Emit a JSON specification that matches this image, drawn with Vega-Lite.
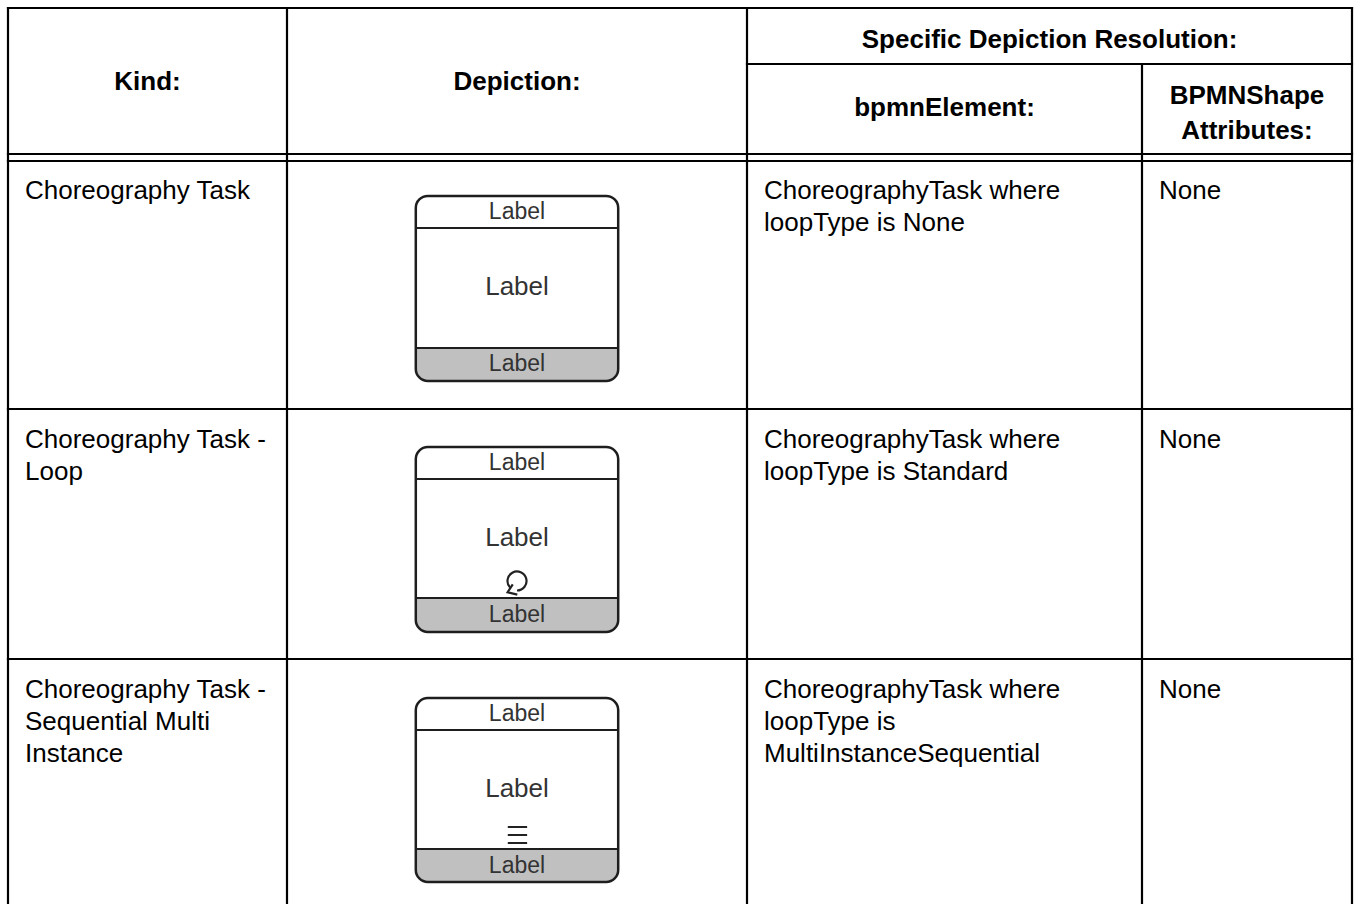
{
  "$schema": "https://vega.github.io/schema/vega-lite/v6.json",
  "width": 1357,
  "height": 904,
  "padding": 0,
  "autosize": {"type": "none"},
  "background": "white",
  "config": {"view": {"stroke": null}, "text": {"font": "Liberation Sans"}},
  "datasets": {
    "grid": [
      {"x": 0, "x2": 4, "y": 0, "y2": 0},
      {"x": 2, "x2": 4, "y": 1, "y2": 1},
      {"x": 0, "x2": 4, "y": 2, "y2": 2},
      {"x": 0, "x2": 4, "y": 3, "y2": 3},
      {"x": 0, "x2": 4, "y": 4, "y2": 4},
      {"x": 0, "x2": 4, "y": 5, "y2": 5},
      {"x": 0, "x2": 4, "y": 6, "y2": 6},
      {"x": 0, "x2": 0, "y": 0, "y2": 6},
      {"x": 1, "x2": 1, "y": 0, "y2": 6},
      {"x": 2, "x2": 2, "y": 0, "y2": 6},
      {"x": 3, "x2": 3, "y": 1, "y2": 6},
      {"x": 4, "x2": 4, "y": 0, "y2": 6}
    ],
    "headers": [
      {"x": 0.5, "y": 1.2, "text": "Kind:"},
      {"x": 1.5, "y": 1.2, "text": "Depiction:"},
      {"x": 2.766, "y": 0.57, "text": "Specific Depiction Resolution:"},
      {"x": 2.5, "y": 1.49, "text": "bpmnElement:"},
      {"x": 3.5, "y": 1.36, "text": "BPMNShape"},
      {"x": 3.5, "y": 1.74, "text": "Attributes:"}
    ],
    "cells": [
      {"x": 0, "y": 3.155, "text": "Choreography Task"},
      {"x": 0, "y": 4.155, "text": "Choreography Task -\nLoop"},
      {"x": 0, "y": 5.155, "text": "Choreography Task -\nSequential Multi\nInstance"},
      {"x": 2, "y": 3.155, "text": "ChoreographyTask where\nloopType is None"},
      {"x": 2, "y": 4.155, "text": "ChoreographyTask where\nloopType is Standard"},
      {"x": 2, "y": 5.155, "text": "ChoreographyTask where\nloopType is\nMultiInstanceSequential"},
      {"x": 3, "y": 3.155, "text": "None"},
      {"x": 3, "y": 4.155, "text": "None"},
      {"x": 3, "y": 5.155, "text": "None"}
    ],
    "boxes": [
      {"x": 1.28, "x2": 1.72, "y": 3.141, "y2": 3.887},
      {"x": 1.28, "x2": 1.72, "y": 4.152, "y2": 4.892},
      {"x": 1.28, "x2": 1.72, "y": 5.156, "y2": 5.892}
    ],
    "bands": [
      {"x": 1.28, "x2": 1.72, "y": 3.754, "y2": 3.887},
      {"x": 1.28, "x2": 1.72, "y": 4.756, "y2": 4.892},
      {"x": 1.28, "x2": 1.72, "y": 5.76, "y2": 5.892}
    ],
    "bandLines": [
      {"x": 1.28, "x2": 1.72, "y": 3.27, "y2": 3.27},
      {"x": 1.28, "x2": 1.72, "y": 3.754, "y2": 3.754},
      {"x": 1.28, "x2": 1.72, "y": 4.28, "y2": 4.28},
      {"x": 1.28, "x2": 1.72, "y": 4.756, "y2": 4.756},
      {"x": 1.28, "x2": 1.72, "y": 5.284, "y2": 5.284},
      {"x": 1.28, "x2": 1.72, "y": 5.76, "y2": 5.76}
    ],
    "smallLabels": [
      {"x": 1.5, "y": 3.206, "text": "Label"},
      {"x": 1.5, "y": 3.819, "text": "Label"},
      {"x": 1.5, "y": 4.216, "text": "Label"},
      {"x": 1.5, "y": 4.824, "text": "Label"},
      {"x": 1.5, "y": 5.22, "text": "Label"},
      {"x": 1.5, "y": 5.826, "text": "Label"}
    ],
    "midLabels": [
      {"x": 1.5, "y": 3.508, "text": "Label"},
      {"x": 1.5, "y": 4.516, "text": "Label"},
      {"x": 1.5, "y": 5.52, "text": "Label"}
    ],
    "loop": [{"x": 1.5, "y": 4.688}],
    "loopHead": [{"x": 1.492, "y": 4.724}],
    "seq": [
      {"x": 1.48, "x2": 1.522, "y": 5.672, "y2": 5.672},
      {"x": 1.48, "x2": 1.522, "y": 5.704, "y2": 5.704},
      {"x": 1.48, "x2": 1.522, "y": 5.736, "y2": 5.736}
    ]
  },
  "encoding": {
    "x": {"field": "x", "type": "quantitative", "axis": null,
      "scale": {"domain": [0, 1, 2, 3, 4], "range": [8, 287, 747, 1142, 1352], "zero": false, "nice": false}},
    "y": {"field": "y", "type": "quantitative", "axis": null,
      "scale": {"domain": [0, 1, 2, 3, 4, 5, 6], "range": [8, 64, 154, 161, 409, 659, 909], "zero": false, "nice": false}}
  },
  "layer": [
    {"data": {"name": "bands"},
      "mark": {"type": "rect", "fill": "#c0c0c0", "cornerRadiusBottomLeft": 12, "cornerRadiusBottomRight": 12},
      "encoding": {"x2": {"field": "x2"}, "y2": {"field": "y2"}}},
    {"data": {"name": "boxes"},
      "mark": {"type": "rect", "fill": "white", "fillOpacity": 0, "stroke": "#1e1e1e", "strokeWidth": 2.5, "cornerRadius": 12},
      "encoding": {"x2": {"field": "x2"}, "y2": {"field": "y2"}}},
    {"data": {"name": "bandLines"},
      "mark": {"type": "rule", "stroke": "#1e1e1e", "strokeWidth": 2},
      "encoding": {"x2": {"field": "x2"}, "y2": {"field": "y2"}}},
    {"data": {"name": "grid"},
      "mark": {"type": "rule", "stroke": "#000000", "strokeWidth": 2.2, "strokeCap": "square"},
      "encoding": {"x2": {"field": "x2"}, "y2": {"field": "y2"}}},
    {"data": {"name": "headers"},
      "mark": {"type": "text", "font": "Liberation Sans", "fontSize": 26, "fontWeight": "bold", "align": "center", "baseline": "middle", "color": "#000000"},
      "encoding": {"text": {"field": "text"}}},
    {"data": {"name": "cells"},
      "mark": {"type": "text", "font": "Liberation Sans", "fontSize": 26, "align": "left", "baseline": "alphabetic", "dx": 17, "lineBreak": "\n", "lineHeight": 32, "color": "#000000"},
      "encoding": {"text": {"field": "text"}}},
    {"data": {"name": "smallLabels"},
      "mark": {"type": "text", "font": "Liberation Sans", "fontSize": 23, "align": "center", "baseline": "middle", "color": "#333333"},
      "encoding": {"text": {"field": "text"}}},
    {"data": {"name": "midLabels"},
      "mark": {"type": "text", "font": "Liberation Sans", "fontSize": 26, "align": "center", "baseline": "middle", "color": "#333333"},
      "encoding": {"text": {"field": "text"}}},
    {"data": {"name": "loop"},
      "mark": {"type": "arc", "filled": false, "stroke": "#222222", "strokeWidth": 2.2},
      "encoding": {"theta": {"value": 3.95}, "theta2": {"value": 9.42}, "radius": {"value": 9.5}, "radius2": {"value": 9.5}}},
    {"data": {"name": "loopHead"},
      "mark": {"type": "point", "shape": "M-0.1,-1L-1,0.4L0.7,0.8", "filled": false, "stroke": "#222222", "strokeWidth": 2.2, "size": 130, "opacity": 1}},
    {"data": {"name": "seq"},
      "mark": {"type": "rule", "stroke": "#222222", "strokeWidth": 2},
      "encoding": {"x2": {"field": "x2"}, "y2": {"field": "y2"}}}
  ]
}
